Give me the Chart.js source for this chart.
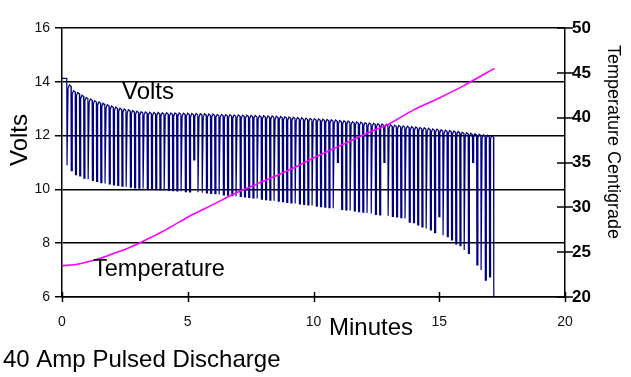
<!DOCTYPE html>
<html><head><meta charset="utf-8">
<script src="https://cdn.jsdelivr.net/npm/chart.js@4/dist/chart.umd.min.js"></script>
<style>html,body{margin:0;padding:0;background:#fff;overflow:hidden}#wrap{width:631px;height:377px;position:relative}</style>
</head><body><div id="wrap"><canvas id="c" width="631" height="377"></canvas></div>
<script>
// ---- data ----
const restVolts = [
 14.13, 13.88, 13.67, 13.6, 13.5, 13.42, 13.36, 13.3, 13.25, 13.2,
 13.15, 13.1, 13.06, 13.02, 12.99, 12.96, 12.93, 12.91, 12.89, 12.88,
 12.87, 12.86, 12.86, 12.85, 12.85, 12.84, 12.84, 12.84, 12.83, 12.83,
 12.82, 12.82, 12.81, 12.81, 12.8, 12.8, 12.79, 12.79, 12.78, 12.78,
 12.77, 12.77, 12.76, 12.76, 12.75, 12.75, 12.74, 12.74, 12.73, 12.73,
 12.72, 12.71, 12.7, 12.69, 12.68, 12.67, 12.66, 12.65, 12.64, 12.63,
 12.62, 12.61, 12.6, 12.59, 12.58, 12.56, 12.55, 12.54, 12.52, 12.51,
 12.5, 12.48, 12.47, 12.46, 12.44, 12.43, 12.42, 12.4, 12.39, 12.38,
 12.36, 12.35, 12.33, 12.32, 12.3, 12.29, 12.27, 12.25, 12.24, 12.22,
 12.2, 12.19, 12.17, 12.15, 12.13, 12.11, 12.09, 12.07, 12.05, 12.03,
 12.01, 12.0
];
const loadVolts = [
 10.9, 10.7, 10.55, 10.5, 10.42, 10.38, 10.33, 10.3, 10.25, 10.22,
 10.2, 10.17, 10.15, 10.12, 10.1, 10.08, 10.06, 10.05, 10.03, 10.02,
 10.0, 9.99, 9.98, 9.97, 9.96, 9.95, 9.94, 9.93, 9.92, 9.91,
 11.1, 9.89, 9.88, 9.87, 9.85, 9.84, 9.82, 9.8, 9.79, 9.77,
 9.75, 9.74, 9.72, 9.7, 9.68, 9.66, 9.64, 9.62, 9.6, 9.58,
 9.56, 9.54, 9.52, 9.5, 9.48, 9.46, 9.44, 9.42, 9.4, 9.38,
 9.36, 9.34, 9.32, 9.3, 11.0, 9.26, 9.24, 9.22, 9.2, 9.17,
 9.15, 9.12, 9.1, 9.07, 9.05, 11.0, 9.02, 9.0, 8.98, 8.95,
 8.92, 8.78, 8.76, 8.68, 8.61, 8.55, 8.49, 8.39, 8.99, 8.3,
 8.24, 8.12, 7.97, 7.91, 7.75, 7.62, 11.0, 7.19, 7.0, 6.63,
 6.75, 6.04
];
const pulseStartMinutes = 0.2;
const pulsePeriodMinutes = 0.168;

const tempMinutes = [0, 0.5, 1, 1.5, 2, 2.5, 3, 3.5, 4, 4.5, 5, 6, 7, 8, 9, 10, 11, 12, 13, 14, 15, 16, 16.5, 17.2];
const tempCentigrade = [23.5, 23.6, 23.9, 24.3, 24.8, 25.3, 25.9, 26.6, 27.3, 28.1, 28.9, 30.3, 31.7, 32.9, 34.1, 35.5, 36.8, 38.1, 39.3, 40.9, 42.2, 43.6, 44.4, 45.5];

const minuteTicks = [0, 5, 10, 15, 20];
const voltTicks = [6, 8, 10, 12, 14, 16];
const tempTicks = [20, 25, 30, 35, 40, 45, 50];

// ---- build point lists ----
const voltPoints = [{x: 0, y: restVolts[0]}];
for (let i = 0; i < restVolts.length; i++) {
  const t = pulseStartMinutes + i * pulsePeriodMinutes;
  if (i > 0) {
    const tp = t - pulsePeriodMinutes;
    voltPoints.push({x: tp + 0.04, y: restVolts[i] - 0.12});
    voltPoints.push({x: tp + 0.09, y: restVolts[i]});
    voltPoints.push({x: t - 0.01, y: restVolts[i] - 0.05});
  } else {
    voltPoints.push({x: t - 0.01, y: restVolts[i]});
  }
  voltPoints.push({x: t, y: loadVolts[i]});
  voltPoints.push({x: t + 0.03, y: loadVolts[i]});
}
const tempPoints = tempMinutes.map((m, i) => ({x: m, y: tempCentigrade[i]}));

const FONT = "'Liberation Sans', Arial, sans-serif";

const decor = {
  id: 'decor',
  afterDraw(chart) {
    const ctx = chart.ctx;
    const xs = chart.scales.x, y2 = chart.scales.y2;
    const a = chart.chartArea;
    ctx.save();
    ctx.strokeStyle = '#000';
    ctx.lineWidth = 1.5;
    ctx.beginPath();
    minuteTicks.forEach(v => {
      const px = Math.round(xs.getPixelForValue(v)) + 0.5;
      ctx.moveTo(px, a.bottom - 5); ctx.lineTo(px, a.bottom + 5);
    });
    tempTicks.forEach(v => {
      const py = Math.round(y2.getPixelForValue(v));
      ctx.moveTo(a.right - 8, py); ctx.lineTo(a.right + 8, py);
    });
    ctx.stroke();

    ctx.fillStyle = '#000';
    ctx.textBaseline = 'middle';
    // left title
    ctx.save();
    ctx.translate(20, 140);
    ctx.rotate(-Math.PI / 2);
    ctx.textAlign = 'center';
    ctx.font = '24px ' + FONT;
    ctx.fillText('Volts', 0, 0);
    ctx.restore();
    // right title
    ctx.save();
    ctx.translate(613, 142);
    ctx.rotate(Math.PI / 2);
    ctx.textAlign = 'center';
    ctx.font = '18px ' + FONT;
    ctx.fillText('Temperature Centigrade', 0, 0);
    ctx.restore();
    // x title
    ctx.textAlign = 'center';
    ctx.font = '24px ' + FONT;
    ctx.fillText('Minutes', 371, 328);
    // caption
    ctx.textAlign = 'left';
    ctx.fillText('40 Amp Pulsed Discharge', 3, 360);
    // series labels
    ctx.fillText('Volts', 122, 92);
    ctx.font = '23.5px ' + FONT;
    ctx.fillText('Temperature', 93, 270);
    ctx.restore();
  }
};

new Chart(document.getElementById('c'), {
  type: 'line',
  data: {
    datasets: [
      {label: 'Temperature', data: tempPoints, yAxisID: 'y2', borderColor: '#ff00ff', borderWidth: 1.6, pointRadius: 0, tension: 0.3, fill: false},
      {label: 'Volts', data: voltPoints, yAxisID: 'y', borderColor: '#000080', borderWidth: 1.2, pointRadius: 0, tension: 0, fill: false}
    ]
  },
  options: {
    responsive: false,
    animation: false,
    devicePixelRatio: 1,
    layout: {padding: {top: 28, left: 0, right: 0, bottom: 0}},
    plugins: {legend: {display: false}, tooltip: {enabled: false}, title: {display: false}},
    scales: {
      x: {
        type: 'linear', position: 'bottom', min: 0, max: 20,
        afterBuildTicks: s => { s.ticks = minuteTicks.map(v => ({value: v})); },
        ticks: {font: {family: FONT, size: 14}, color: '#111', padding: 17, maxRotation: 0, autoSkip: false},
        grid: {drawOnChartArea: false, drawTicks: false},
        border: {display: true, color: '#000', width: 1.5},
        afterFit: s => { s.height = 80; }
      },
      y: {
        type: 'linear', position: 'left', min: 6, max: 16,
        afterBuildTicks: s => { s.ticks = voltTicks.map(v => ({value: v})); },
        ticks: {font: {family: FONT, size: 14}, color: '#111', padding: 5, autoSkip: false},
        grid: {color: '#000', lineWidth: 1.5, tickLength: 7},
        border: {display: true, color: '#000', width: 1.5},
        afterFit: s => { s.width = 62; }
      },
      y2: {
        type: 'linear', position: 'right', min: 20, max: 50,
        afterBuildTicks: s => { s.ticks = tempTicks.map(v => ({value: v})); },
        ticks: {font: {family: FONT, size: 17, weight: 'bold'}, color: '#000', padding: 7, autoSkip: false},
        grid: {drawOnChartArea: false, drawTicks: false},
        border: {display: true, color: '#000', width: 1.5},
        afterFit: s => { s.width = 66; }
      }
    }
  },
  plugins: [decor]
});
</script>
</body></html>
